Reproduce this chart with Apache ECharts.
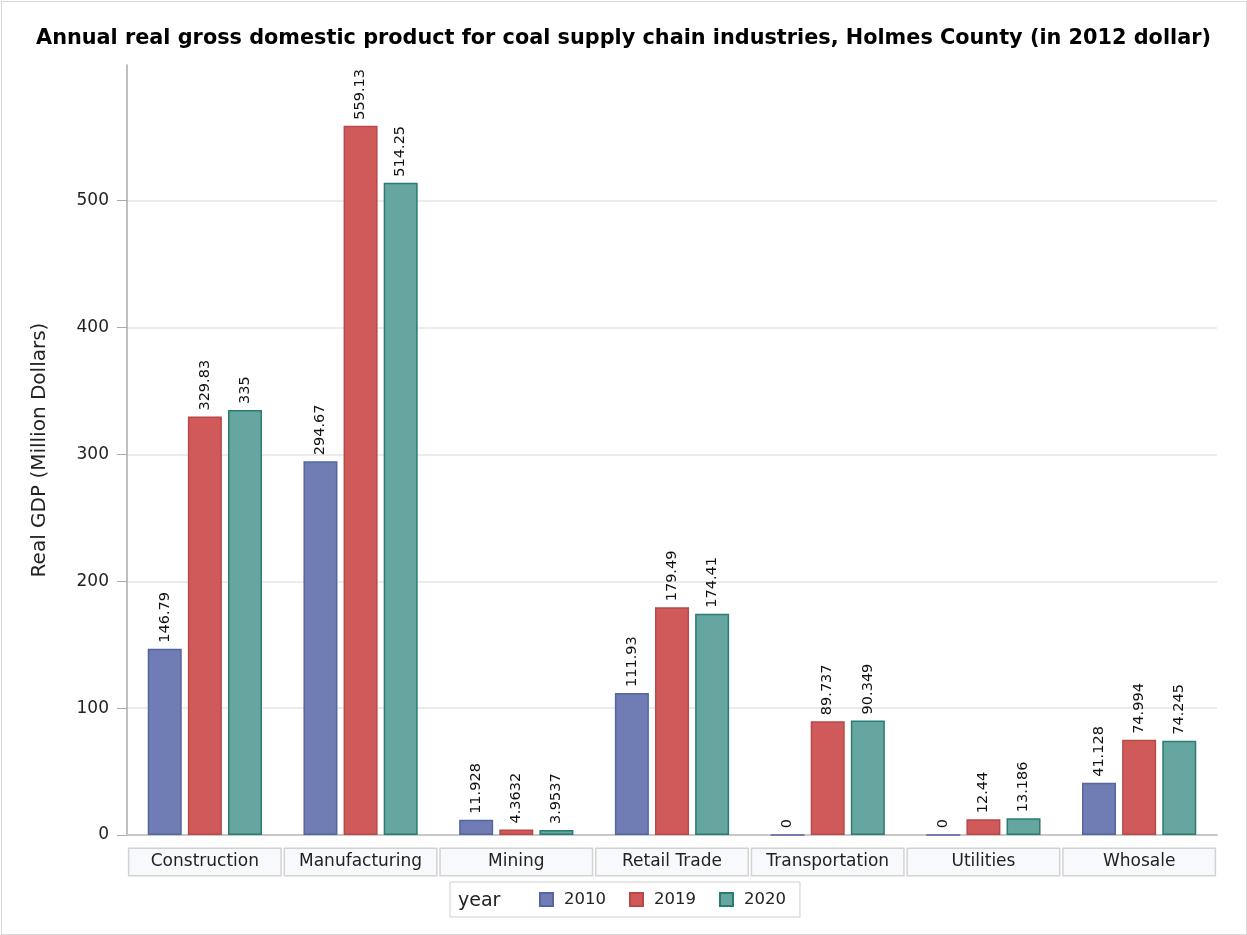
<!DOCTYPE html>
<html>
<head>
<meta charset="utf-8">
<script src="https://cdn.jsdelivr.net/npm/echarts@6/dist/echarts.min.js"></script>
<style>
html,body{margin:0;padding:0;background:#fff;}
#frame{position:absolute;left:1px;top:1px;width:1244px;height:932px;border:1px solid #d8d8d8;}
#chart{width:1247px;height:935px;position:absolute;left:0;top:0;}
</style>
</head>
<body>
<div id="frame"></div>
<div id="chart"></div>
<script>
const categories = ['Construction', 'Manufacturing', 'Mining', 'Retail Trade', 'Transportation', 'Utilities', 'Whosale'];
const years = ['2010', '2019', '2020'];
const gdp2010 = [146.79, 294.67, 11.928, 111.93, 0, 0, 41.128];
const gdp2019 = [329.83, 559.13, 4.3632, 179.49, 89.737, 12.44, 74.994];
const gdp2020 = [335, 514.25, 3.9537, 174.41, 90.349, 13.186, 74.245];
const yTicks = [0, 100, 200, 300, 400, 500];

const fills = ['#6f7db4', '#d05a5a', '#66a6a0'];
const borders = ['#5565a2', '#b94848', '#2a7b72'];
const seriesValues = [gdp2010, gdp2019, gdp2020];

const FONT = '"DejaVu Sans", Verdana, sans-serif';

const chart = echarts.init(document.getElementById('chart'), null, {renderer: 'canvas'});
chart.setOption({
  animation: false,
  backgroundColor: 'transparent',
  title: [
    {
      text: 'Annual real gross domestic product for coal supply chain industries, Holmes County (in 2012 dollar)',
      left: 'center', top: 23,
      textStyle: {fontFamily: FONT, fontSize: 20.8, fontWeight: 'bold', color: '#000'}
    },
    {
      text: 'year', left: 453, top: 887,
      textStyle: {fontFamily: FONT, fontSize: 19, fontWeight: 'normal', color: '#222'}
    }
  ],
  legend: {
    data: years,
    left: 450, top: 882,
    padding: [9, 14, 9, 89],
    itemGap: 23,
    itemWidth: 13, itemHeight: 13,
    borderColor: '#cfcfcf', borderWidth: 1,
    textStyle: {fontFamily: FONT, fontSize: 16.5, color: '#222', padding: [0, 0, 0, 6]},
    icon: 'rect'
  },
  grid: {left: 127, right: 30, top: 65, bottom: 100, containLabel: false},
  xAxis: {
    type: 'category',
    data: categories,
    axisLine: {show: true, lineStyle: {color: '#c8c8c8', width: 2}},
    axisTick: {show: false},
    splitLine: {show: false},
    axisLabel: {
      interval: 0,
      margin: 14,
      fontFamily: FONT, fontSize: 17, color: '#222',
      width: 151, height: 26, lineHeight: 26,
      align: 'center', verticalAlign: 'top',
      backgroundColor: '#f8f9fd',
      borderColor: '#d2d2d2', borderWidth: 1.5,
      padding: [0, 0, 0, 0],
      overflow: 'none'
    }
  },
  yAxis: {
    type: 'value',
    min: 0, max: 607, interval: 100,
    name: 'Real GDP (Million Dollars)',
    nameLocation: 'middle',
    nameGap: 77,
    nameTextStyle: {fontFamily: FONT, fontSize: 20, color: '#222'},
    axisLine: {show: true, lineStyle: {color: '#aaaaaa', width: 1.5}},
    axisTick: {show: true, length: 10, lineStyle: {color: '#aaaaaa'}, customValues: yTicks},
    axisLabel: {fontFamily: FONT, fontSize: 17, color: '#222', margin: 18, customValues: yTicks},
    splitLine: {show: true, lineStyle: {color: ['#ebebeb', '#ebebeb', '#ebebeb', '#ebebeb', '#ebebeb', '#ebebeb', 'rgba(0,0,0,0)', 'rgba(0,0,0,0)'], width: 2}}
  },
  series: years.map((y, i) => ({
    name: y,
    type: 'bar',
    data: seriesValues[i],
    barWidth: 34,
    barGap: '18%',
    itemStyle: {color: fills[i], borderColor: borders[i], borderWidth: 1.5},
    label: {
      show: true,
      position: 'top',
      rotate: 90,
      align: 'left',
      verticalAlign: 'middle',
      distance: 6,
      fontFamily: FONT, fontSize: 14.5, color: '#111',
      formatter: '{c}'
    }
  }))
});
</script>
</body>
</html>
